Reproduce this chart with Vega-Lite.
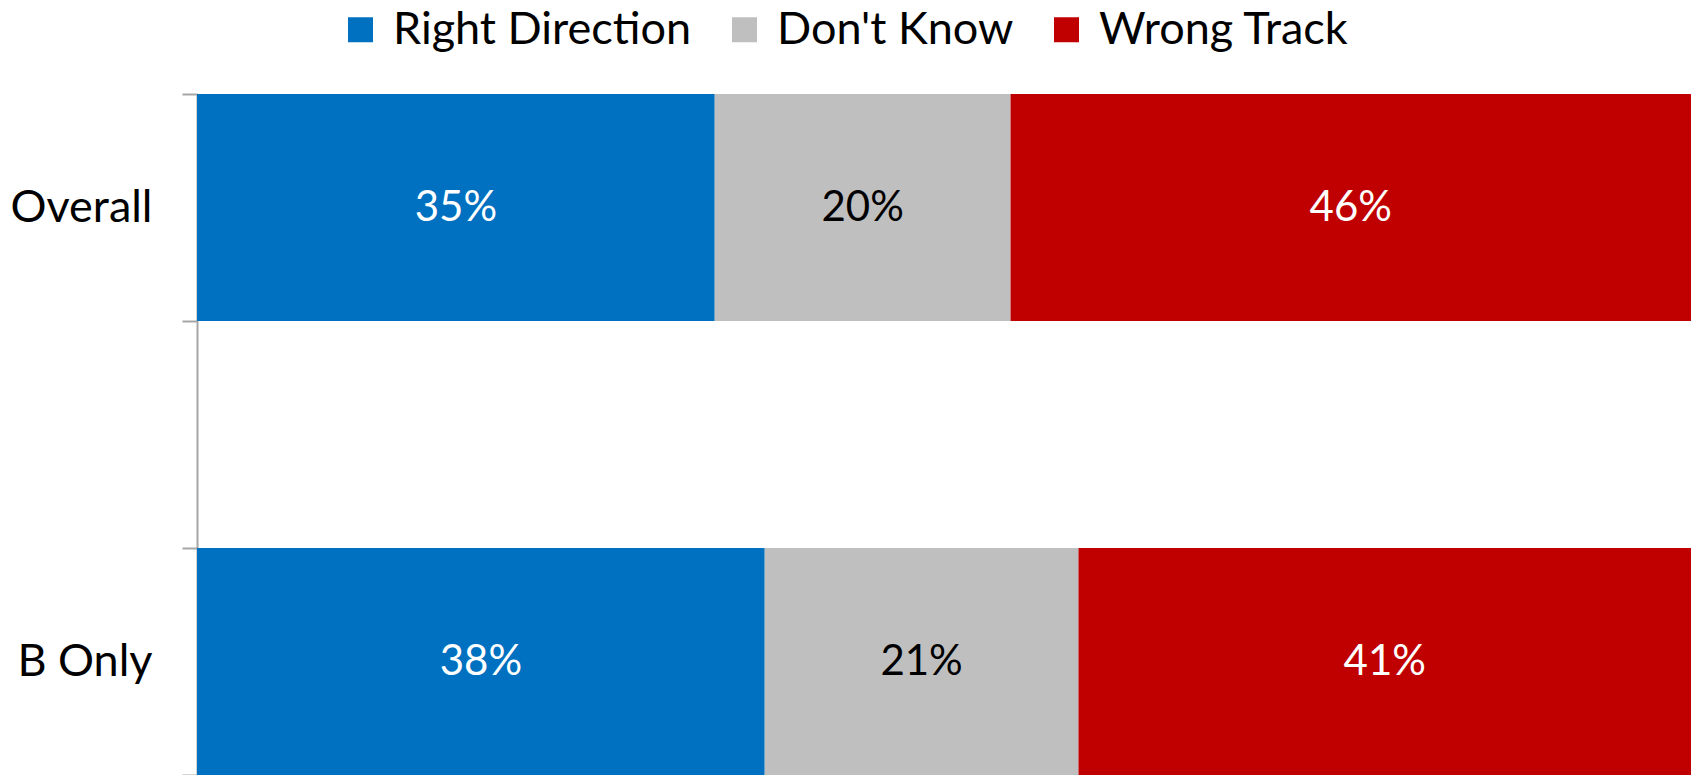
{
  "$schema": "https://vega.github.io/schema/vega-lite/v6.json",
  "width": 1494,
  "height": 681,
  "autosize": {"type": "none"},
  "padding": {"left": 197, "top": 94, "right": 5, "bottom": 0},
  "background": "white",
  "config": {
    "view": {"stroke": null},
    "font": "Lato",
    "axis": {"labelFont": "Lato", "labelColor": "black"},
    "legend": {"labelFont": "Lato", "labelColor": "black"}
  },
  "data": {
    "values": [
      {"group": "Overall", "response": "Right Direction", "k": 1, "share": 0.35},
      {"group": "Overall", "response": "Don't Know", "k": 2, "share": 0.20},
      {"group": "Overall", "response": "Wrong Track", "k": 3, "share": 0.46},
      {"group": "B Only", "response": "Right Direction", "k": 1, "share": 0.38},
      {"group": "B Only", "response": "Don't Know", "k": 2, "share": 0.21},
      {"group": "B Only", "response": "Wrong Track", "k": 3, "share": 0.41}
    ]
  },
  "encoding": {
    "y": {
      "field": "group",
      "type": "nominal",
      "scale": {"domain": ["Overall", "gap", "B Only"], "paddingInner": 0, "paddingOuter": 0},
      "axis": {
        "title": null,
        "labelExpr": "datum.value == 'gap' ? '' : datum.value",
        "labelFontSize": 45,
        "labelPadding": 30,
        "labelLimit": 0,
        "tickSize": 15,
        "tickBand": "extent",
        "tickColor": "#a6a6a6",
        "domainColor": "#a6a6a6",
        "tickWidth": 2,
        "domainWidth": 2,
        "grid": false
      }
    },
    "x": {
      "field": "share",
      "type": "quantitative",
      "stack": "normalize",
      "axis": null,
      "scale": {"domain": [0, 1]}
    },
    "order": {"field": "k", "type": "quantitative"}
  },
  "layer": [
    {
      "mark": {"type": "bar"},
      "encoding": {
        "color": {
          "field": "response",
          "type": "nominal",
          "scale": {
            "domain": ["Right Direction", "Don't Know", "Wrong Track"],
            "range": ["#0070C0", "#BFBFBF", "#C00000"]
          },
          "legend": {
            "title": null,
            "orient": "none",
            "direction": "horizontal",
            "legendX": 141,
            "legendY": -87,
            "labelFontSize": 45,
            "labelLimit": 0,
            "symbolType": "square",
            "symbolSize": 625,
            "symbolStrokeWidth": 0,
            "labelOffset": 10,
            "columnPadding": 30
          }
        }
      }
    },
    {
      "mark": {"type": "text", "fontSize": 42, "align": "center", "baseline": "middle"},
      "encoding": {
        "x": {"field": "share", "type": "quantitative", "stack": "normalize", "bandPosition": 0.5},
        "text": {"field": "share", "type": "quantitative", "format": ".0%"},
        "color": {
          "condition": {"test": "datum.response === \"Don't Know\"", "value": "black"},
          "value": "white"
        }
      }
    }
  ]
}
